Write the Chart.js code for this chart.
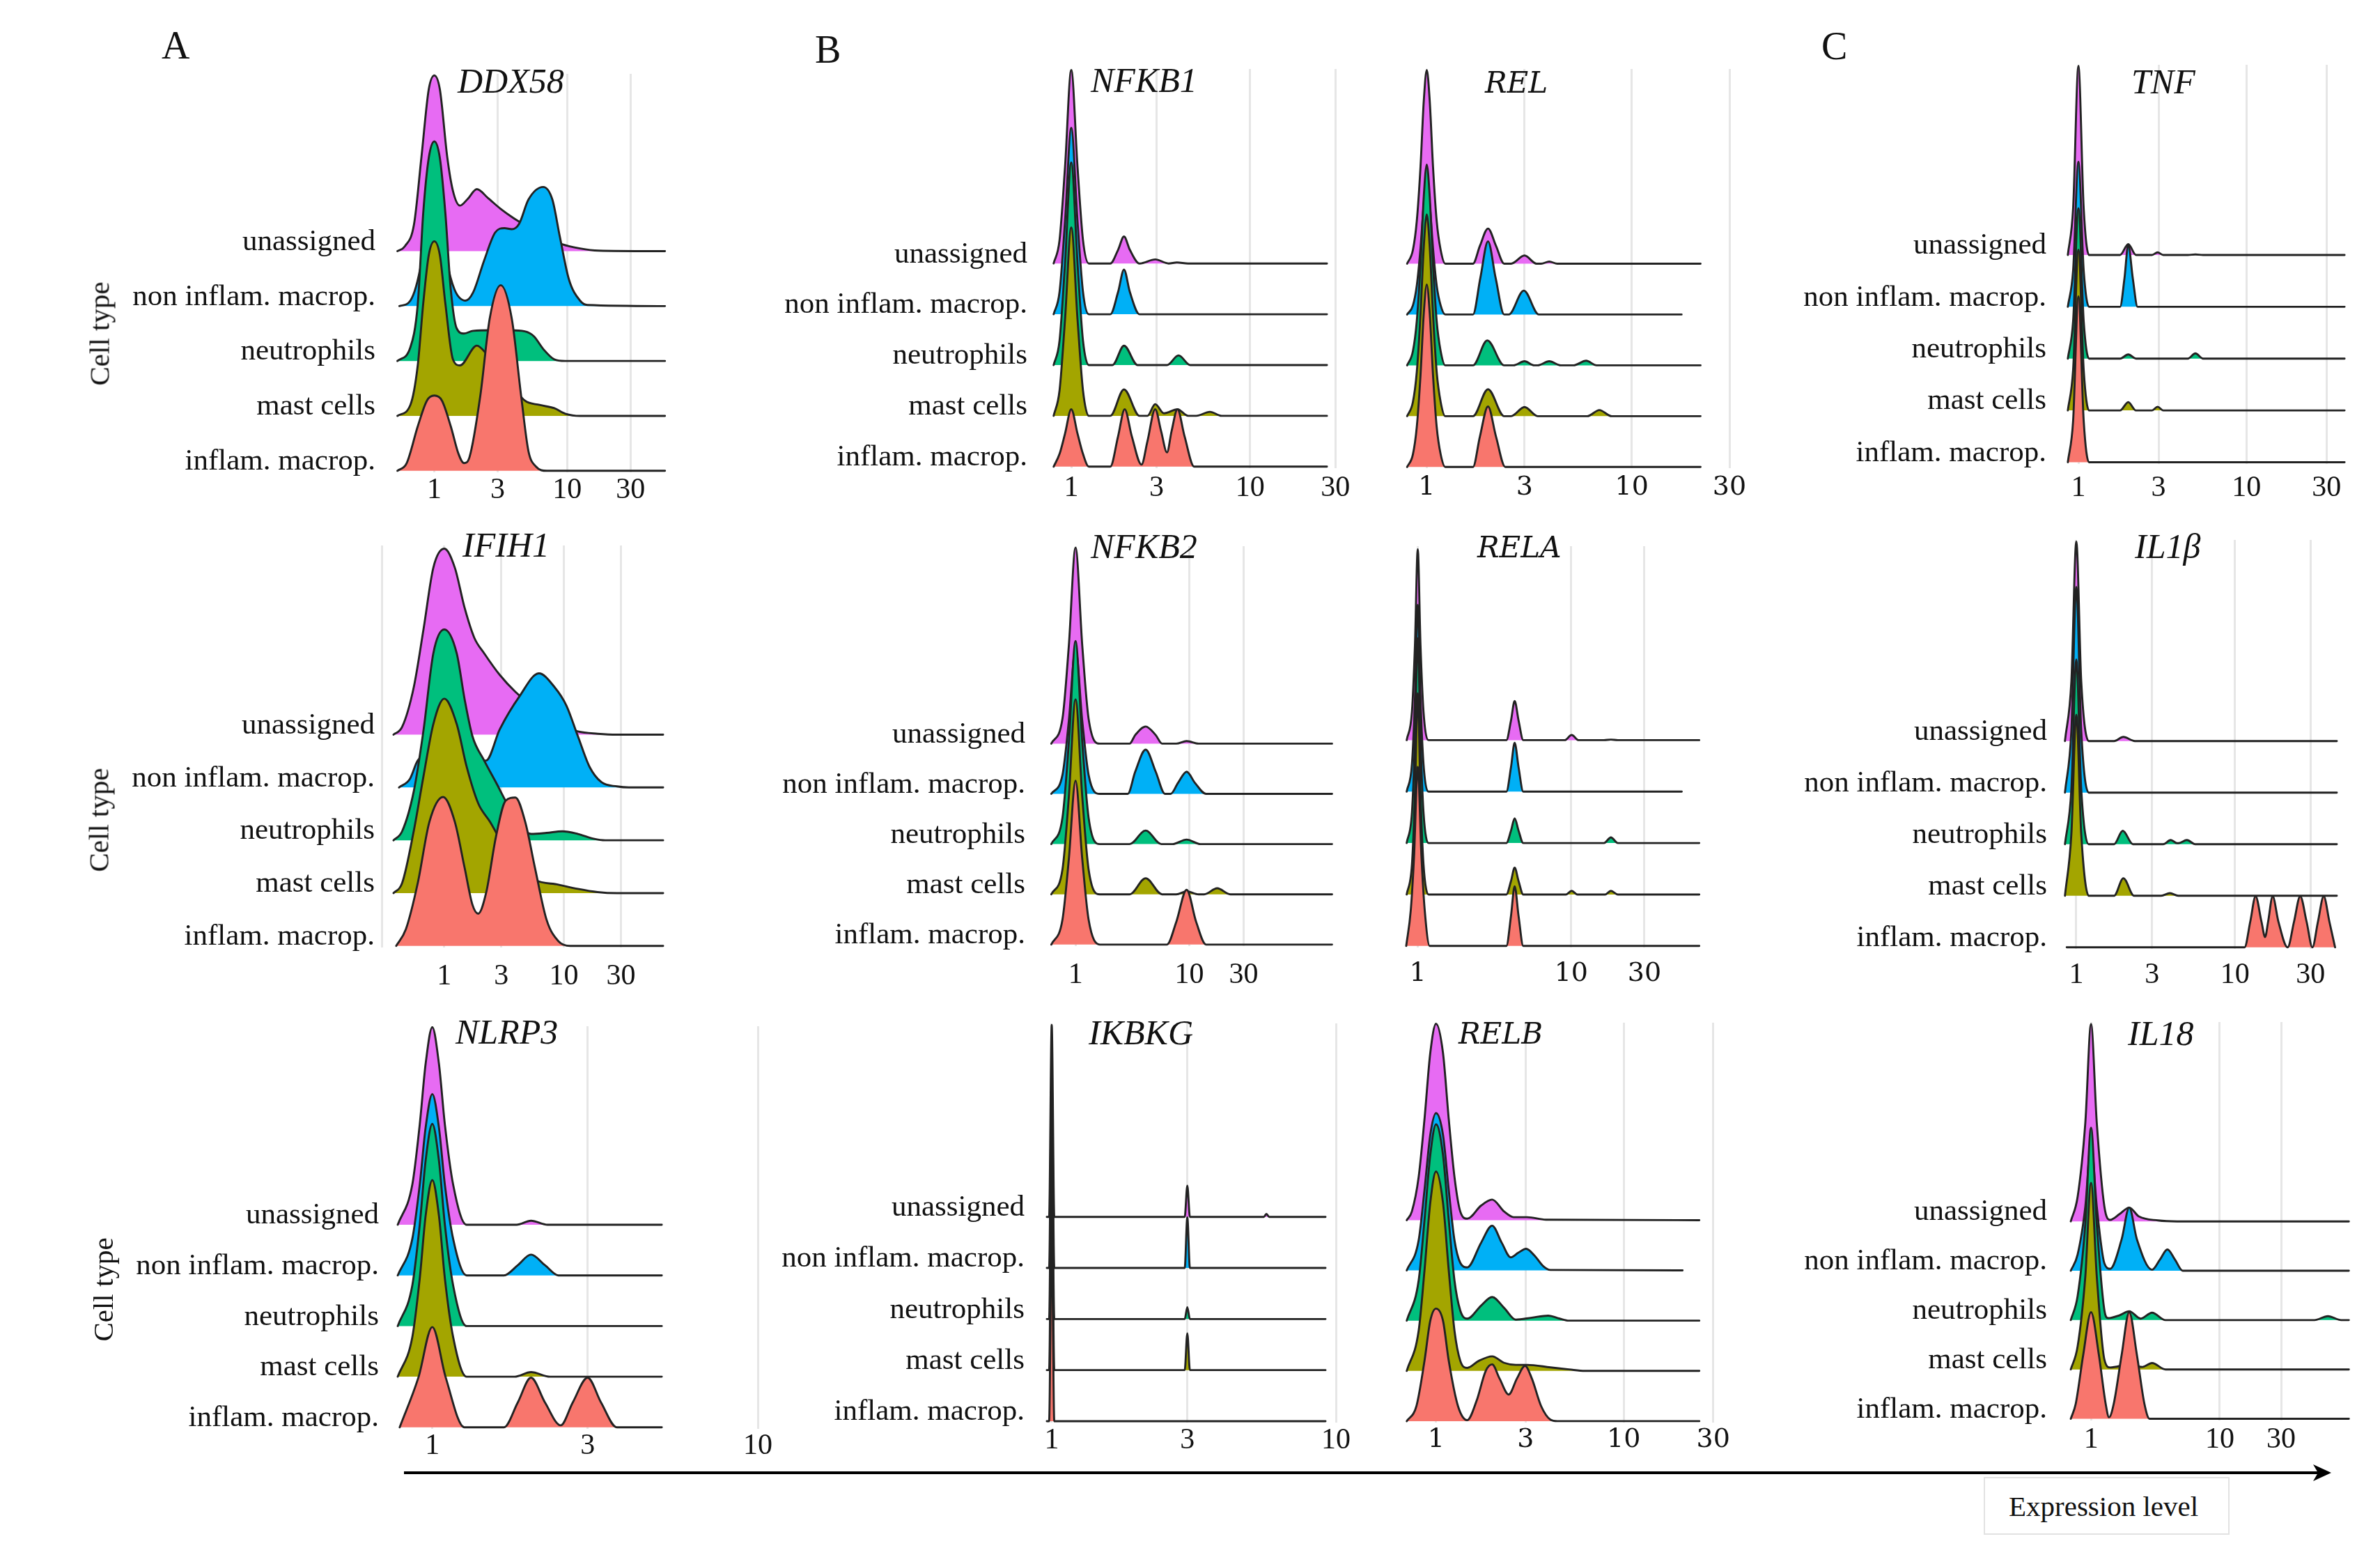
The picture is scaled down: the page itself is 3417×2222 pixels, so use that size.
<!DOCTYPE html>
<html><head><meta charset="utf-8">
<script src="https://cdn.jsdelivr.net/npm/chart.js@4.4.1/dist/chart.umd.min.js"></script>
<style>
html,body{margin:0;padding:0;background:#fff;}
#page{position:relative;width:3417px;height:2222px;overflow:hidden;background:#fff;}
#page canvas{position:absolute;}
.t{position:absolute;white-space:nowrap;line-height:1;color:#111;font-family:'Liberation Serif','Times New Roman',serif;}
.ti{font-style:italic;font-size:50px;}
.tj{font-family:'DejaVu Serif',serif;font-style:italic;font-size:42px;}
.let{font-size:56px;}
.ct{font-size:41px;transform:translate(-50%,-50%) rotate(-90deg);}
</style></head><body><div id="page"></div>
<script>
// ---------- categories (bottom ridge first) ----------
const CELL_TYPES = ['inflam. macrop.', 'mast cells', 'neutrophils', 'non inflam. macrop.', 'unassigned'];

// ---------- tick values per panel ----------
const TICKS_DDX58 = [1, 3, 10, 30];
const TICKS_NFKB1 = [1, 3, 10, 30];
const TICKS_REL = [1, 3, 10, 30];
const TICKS_TNF = [1, 3, 10, 30];
const TICKS_IFIH1 = [0.3, 1, 3, 10, 30];
const TICKS_NFKB2 = [1, 10, 30];
const TICKS_RELA = [1, 10, 30];
const TICKS_IL1B = [1, 3, 10, 30];
const TICKS_NLRP3 = [1, 3, 10];
const TICKS_IKBKG = [1, 3, 10];
const TICKS_RELB = [1, 3, 10, 30];
const TICKS_IL18 = [1, 10, 30];
const UNLABELLED_TICKS = [0.3];

// ---------- density ridges: [expression level, density height] ----------
// DDX58
const DDX58_inflam = [[0.527,0],[0.619,0.14],[0.75,0.81],[0.88,1.28],[1,1.37],[1.14,1.28],[1.33,0.81],[1.52,0.31],[1.67,0.14],[1.84,0.25],[2.22,1.37],[2.61,2.77],[3.16,3.38],[3.83,2.77],[4.5,1.37],[5.11,0.36],[5.81,0.08],[7.03,0],[54.5,0]];
const DDX58_mast = [[0.527,0],[0.66,0.2],[0.75,0.92],[0.825,2.05],[0.908,2.93],[1,3.18],[1.1,2.93],[1.21,2.05],[1.38,1.03],[1.56,0.92],[2.09,1.28],[2.53,1.1],[3.26,0.8],[4.8,0.28],[6.19,0.2],[8.0,0.14],[9.68,0.04],[12.5,0],[54.5,0]];
const DDX58_neutro = [[0.527,0],[0.66,0.25],[0.75,1.03],[0.825,2.7],[0.908,3.7],[1,4.0],[1.1,3.7],[1.21,2.7],[1.33,1.3],[1.47,0.6],[1.67,0.5],[1.96,0.55],[2.7,0.56],[3.71,0.56],[4.8,0.54],[5.62,0.45],[6.6,0.22],[8.0,0.03],[9.68,0],[54.5,0]];
const DDX58_nonInflam = [[0.545,0],[0.66,0.1],[0.8,0.8],[0.908,1.8],[1,2.1],[1.1,1.8],[1.25,0.8],[1.42,0.3],[1.72,0.1],[1.96,0.25],[2.37,0.83],[2.87,1.34],[3.37,1.42],[3.83,1.4],[4.35,1.5],[5.11,1.94],[6.6,2.17],[7.74,1.94],[8.8,1.27],[10.3,0.49],[12.5,0.1],[14.2,0.02],[54.5,0]];
const DDX58_unassigned = [[0.527,0],[0.6,0.09],[0.703,0.49],[0.8,1.72],[0.908,2.95],[1,3.2],[1.1,2.95],[1.25,1.72],[1.38,1.1],[1.56,0.83],[1.78,0.95],[2.09,1.13],[2.53,0.97],[3.16,0.77],[3.96,0.6],[5.45,0.4],[7.03,0.25],[9.09,0.13],[12.5,0.05],[17.2,0.01],[54.5,0]];
// NFKB1
const NFKB1_inflam = [[0.797,0],[0.86,0.25],[0.923,0.65],[1,1.13],[1.084,0.65],[1.163,0.25],[1.254,0],[1.653,0],[1.828,0.6],[1.99,1.13],[2.18,0.6],[2.47,0.04],[2.667,0.5],[2.946,1.13],[3.18,0.7],[3.43,0.28],[3.64,0.7],[3.926,1.13],[4.3,0.6],[4.87,0],[26.9,0]];
const NFKB1_mast = [[0.797,0],[0.86,0.5],[0.923,1.9],[1,3.71],[1.084,1.9],[1.163,0.5],[1.254,0],[1.653,0],[1.972,0.52],[2.41,0],[2.667,0],[2.946,0.23],[3.3,0.05],[3.926,0.13],[4.5,0],[5.0,0],[5.96,0.08],[6.93,0],[26.9,0]];
const NFKB1_neutro = [[0.797,0],[0.86,0.48],[0.923,2.0],[1,3.99],[1.084,2.0],[1.163,0.48],[1.254,0],[1.7,0],[1.972,0.38],[2.35,0],[3.43,0],[3.98,0.19],[4.63,0],[26.9,0]];
const NFKB1_nonInflam = [[0.797,0],[0.86,0.44],[0.923,1.83],[1,3.67],[1.084,1.83],[1.163,0.44],[1.254,0],[1.653,0],[1.828,0.44],[1.972,0.88],[2.126,0.44],[2.41,0],[26.9,0]];
const NFKB1_unassigned = [[0.797,0],[0.86,0.46],[0.923,1.9],[1,3.81],[1.084,1.9],[1.163,0.46],[1.254,0],[1.653,0],[1.828,0.27],[1.972,0.53],[2.126,0.27],[2.41,0],[2.95,0.08],[3.5,0],[3.9,0.02],[4.5,0],[26.9,0]];
// REL
const REL_inflam = [[0.802,0],[0.856,0.25],[0.894,0.79],[0.932,1.8],[0.967,3.02],[1,3.59],[1.034,3.02],[1.073,1.8],[1.118,0.79],[1.169,0.25],[1.231,0],[1.681,0],[1.817,0.6],[1.99,1.19],[2.177,0.6],[2.417,0],[21.68,0]];
const REL_mast = [[0.802,0],[0.856,0.28],[0.894,0.87],[0.932,1.99],[0.967,3.33],[1,3.97],[1.034,3.33],[1.073,1.99],[1.118,0.87],[1.169,0.28],[1.231,0],[1.681,0],[1.99,0.53],[2.387,0],[2.579,0],[3.0,0.18],[3.477,0],[6.075,0],[6.955,0.12],[7.979,0],[21.68,0]];
const REL_neutro = [[0.802,0],[0.856,0.28],[0.894,0.87],[0.932,1.98],[0.967,3.32],[1,3.95],[1.034,3.32],[1.073,1.98],[1.118,0.87],[1.169,0.28],[1.231,0],[1.681,0],[1.974,0.49],[2.387,0],[2.648,0],[3.0,0.08],[3.344,0],[3.477,0],[3.959,0.08],[4.508,0],[5.199,0],[5.998,0.09],[6.74,0],[21.68,0]];
const REL_nonInflam = [[0.802,0],[0.856,0.18],[0.894,0.57],[0.932,1.3],[0.967,2.18],[1,2.6],[1.034,2.18],[1.073,1.3],[1.118,0.57],[1.169,0.18],[1.231,0],[1.681,0],[1.826,0.72],[1.99,1.44],[2.168,0.72],[2.387,0],[2.513,0],[2.976,0.47],[3.523,0],[17.52,0]];
const REL_unassigned = [[0.802,0],[0.856,0.27],[0.894,0.84],[0.932,1.9],[0.967,3.2],[1,3.81],[1.034,3.2],[1.073,1.9],[1.118,0.84],[1.169,0.27],[1.231,0],[1.681,0],[1.817,0.35],[1.99,0.69],[2.177,0.35],[2.387,0],[2.579,0],[3.0,0.16],[3.432,0],[3.614,0],[3.959,0.04],[4.335,0],[21.68,0]];
// TNF
const TNF_inflam = [[0.865,0],[0.93,0.8],[1,3.2],[1.075,0.8],[1.156,0],[38.4,0]];
const TNF_mast = [[0.865,0],[0.93,0.78],[1,3.1],[1.075,0.78],[1.156,0],[1.77,0],[1.98,0.16],[2.2,0],[2.74,0],[2.96,0.07],[3.2,0],[38.4,0]];
const TNF_neutro = [[0.865,0],[0.93,0.72],[1,2.9],[1.075,0.72],[1.156,0],[1.77,0],[1.98,0.08],[2.2,0],[4.48,0],[4.97,0.1],[5.52,0],[38.4,0]];
const TNF_nonInflam = [[0.865,0],[0.93,0.7],[1,2.8],[1.075,0.7],[1.156,0],[1.77,0],[1.88,0.55],[1.98,1.2],[2.107,0.55],[2.25,0],[38.4,0]];
const TNF_unassigned = [[0.865,0],[0.93,0.9],[1,3.65],[1.075,0.9],[1.156,0],[1.77,0],[1.98,0.21],[2.2,0],[2.74,0],[2.96,0.05],[3.2,0],[4.48,0],[4.97,0.01],[5.52,0],[38.4,0]];
// IFIH1
const IFIH1_inflam = [[0.396,0],[0.478,0.32],[0.6,1.19],[0.751,2.35],[0.978,2.82],[1.225,2.35],[1.479,1.48],[1.72,0.78],[1.92,0.61],[2.24,1.01],[2.7,2.06],[3.26,2.75],[3.93,2.81],[4.75,2.35],[5.73,1.48],[7.18,0.49],[9.0,0.09],[11.3,0],[67.6,0]];
const IFIH1_mast = [[0.376,0],[0.444,0.19],[0.556,1.18],[0.671,2.22],[0.81,3.2],[1.0,3.68],[1.27,3.2],[1.535,2.4],[1.92,1.7],[2.41,1.35],[3.14,0.9],[4.24,0.5],[5.73,0.25],[9.0,0.16],[13.1,0.08],[19.1,0.02],[27.8,0],[67.6,0]];
const IFIH1_neutro = [[0.376,0],[0.444,0.17],[0.556,0.93],[0.671,2.09],[0.81,3.54],[1.0,3.99],[1.27,3.54],[1.479,2.67],[1.72,1.97],[2.155,1.51],[2.7,1.1],[3.65,0.55],[5.31,0.12],[7.18,0.14],[9.7,0.17],[13.1,0.12],[17.7,0.03],[22.2,0],[67.6,0]];
const IFIH1_nonInflam = [[0.418,0],[0.515,0.16],[0.6,0.51],[0.81,0.65],[1.094,0.6],[1.595,0.5],[2.24,0.51],[2.91,1.1],[4.24,1.72],[6.18,2.16],[8.35,1.9],[10.5,1.55],[13.1,0.97],[16.4,0.39],[20.6,0.1],[27.8,0.02],[34.9,0],[67.6,0]];
const IFIH1_unassigned = [[0.376,0],[0.444,0.145],[0.556,0.9],[0.671,2.0],[0.81,3.16],[1.0,3.52],[1.225,3.16],[1.479,2.4],[1.785,1.83],[2.155,1.54],[2.91,1.13],[3.93,0.81],[5.73,0.5],[9.0,0.2],[13.1,0.06],[19.1,0.017],[27.8,0],[67.6,0]];
// NFKB2
const NFKB2_inflam = [[0.612,0],[0.768,0.5],[0.873,1.7],[1,3.26],[1.146,1.7],[1.302,0.5],[1.633,0],[6.36,0],[7.68,0.45],[9.48,1.09],[11.5,0.45],[14.05,0],[180,0]];
const NFKB2_mast = [[0.612,0],[0.768,0.5],[0.873,1.94],[1,3.88],[1.146,1.94],[1.302,0.5],[1.633,0],[2.988,0],[4.134,0.32],[5.765,0],[7.68,0],[9.48,0.06],[12.08,0],[13.52,0],[17.6,0.12],[22.95,0],[180,0]];
const NFKB2_neutro = [[0.612,0],[0.768,0.53],[0.873,2.02],[1,4.04],[1.146,2.02],[1.302,0.53],[1.633,0],[2.988,0],[4.134,0.27],[5.676,0],[7.12,0],[9.48,0.09],[12.54,0],[180,0]];
const NFKB2_nonInflam = [[0.612,0],[0.768,0.38],[0.873,1.45],[1,2.9],[1.146,1.45],[1.302,0.38],[1.633,0],[2.877,0],[3.346,0.44],[4.134,0.88],[5.07,0.44],[6.12,0],[6.86,0],[7.97,0.22],[9.48,0.44],[11.2,0.22],[14.05,0],[180,0]];
const NFKB2_unassigned = [[0.612,0],[0.768,0.5],[0.873,1.95],[1,3.9],[1.146,1.95],[1.302,0.5],[1.633,0],[2.988,0],[3.346,0.17],[4.134,0.34],[5.07,0.17],[5.765,0],[7.68,0],[9.48,0.05],[12.08,0],[180,0]];
// RELA
const RELA_inflam = [[0.841,0],[0.901,0.7],[0.946,1.74],[1,3.48],[1.057,1.74],[1.11,0.7],[1.197,0],[3.78,0],[4.05,0.58],[4.28,1.16],[4.54,0.58],[4.87,0],[68.3,0]];
const RELA_mast = [[0.847,0],[0.917,0.59],[0.959,1.95],[1,3.91],[1.042,1.95],[1.09,0.59],[1.177,0],[3.78,0],[4.05,0.26],[4.28,0.52],[4.54,0.26],[4.87,0],[9.23,0],[10.07,0.07],[10.98,0],[16.63,0],[18.14,0.07],[20.13,0],[68.3,0]];
const RELA_neutro = [[0.847,0],[0.917,0.6],[0.959,2.0],[1,3.98],[1.042,2.0],[1.09,0.6],[1.177,0],[3.78,0],[4.05,0.24],[4.28,0.48],[4.54,0.24],[4.87,0],[16.35,0],[18.14,0.11],[20.13,0],[68.3,0]];
const RELA_nonInflam = [[0.847,0],[0.917,0.54],[0.959,1.8],[1,3.63],[1.042,1.8],[1.09,0.54],[1.177,0],[3.78,0],[4.05,0.47],[4.28,0.95],[4.54,0.47],[4.87,0],[52.5,0]];
const RELA_unassigned = [[0.847,0],[0.917,0.56],[0.959,1.85],[1,3.71],[1.042,1.85],[1.09,0.56],[1.177,0],[3.78,0],[4.05,0.38],[4.28,0.76],[4.54,0.38],[4.87,0],[9.07,0],[10.07,0.1],[11.17,0],[16.35,0],[18.14,0.01],[20.13,0],[68.3,0]];
// IL1B
const IL1B_inflam = [[0.87,0],[11.5,0],[12.5,0.5],[13.5,0.99],[14.7,0.5],[15.5,0.2],[16.2,0.5],[17.3,0.99],[18.8,0.5],[21.5,0],[23.6,0.5],[25.8,0.99],[28.3,0.5],[30.8,0],[33.4,0.5],[36.3,0.99],[39.4,0.5],[42.8,0]];
const IL1B_mast = [[0.848,0],[0.931,1.2],[1,3.51],[1.074,1.2],[1.198,0],[1.73,0],[1.98,0.34],[2.313,0],[3.43,0],[3.89,0.05],[4.39,0],[43.9,0]];
const IL1B_neutro = [[0.848,0],[0.931,1.07],[1,3.58],[1.074,1.07],[1.198,0],[1.73,0],[1.963,0.26],[2.276,0],[3.53,0],[3.94,0.08],[4.32,0.02],[4.42,0.02],[4.98,0.08],[5.62,0],[43.9,0]];
const IL1B_nonInflam = [[0.848,0],[0.931,1.2],[1,3.99],[1.074,1.2],[1.198,0],[43.9,0]];
const IL1B_unassigned = [[0.848,0],[0.931,1.16],[1,3.87],[1.074,1.16],[1.198,0],[1.73,0],[1.98,0.08],[2.34,0],[43.9,0]];
// NLRP3
const NLRP3_inflam = [[0.794,0],[0.907,0.99],[1,1.98],[1.099,0.99],[1.255,0],[1.433,0],[1.66,0],[1.83,0.49],[2.01,0.98],[2.22,0.49],[2.48,0.04],[2.7,0.49],[3.0,0.98],[3.3,0.49],[3.69,0],[5.07,0]];
const NLRP3_mast = [[0.783,0],[0.868,0.78],[0.915,1.94],[0.954,3.18],[1,3.88],[1.048,3.18],[1.093,1.94],[1.159,0.78],[1.274,0],[1.79,0],[2.01,0.09],[2.3,0],[5.07,0]];
const NLRP3_neutro = [[0.783,0],[0.868,0.8],[0.915,2.0],[0.954,3.27],[1,3.99],[1.048,3.27],[1.093,2.0],[1.159,0.8],[1.274,0],[5.07,0]];
const NLRP3_nonInflam = [[0.783,0],[0.868,0.72],[0.915,1.79],[0.954,2.92],[1,3.58],[1.048,2.92],[1.093,1.79],[1.159,0.72],[1.274,0],[1.66,0],[1.83,0.2],[2.01,0.41],[2.22,0.2],[2.44,0],[5.07,0]];
const NLRP3_unassigned = [[0.783,0],[0.868,0.79],[0.915,1.98],[0.954,3.18],[1,3.9],[1.048,3.18],[1.093,1.98],[1.159,0.79],[1.274,0],[1.815,0],[2.01,0.08],[2.26,0],[5.07,0]];
// IKBKG
const IKBKG_inflam = [[0.961,0],[0.979,0],[1,3.7],[1.021,0],[9.19,0]];
const IKBKG_mast = [[0.961,0],[0.979,0],[1,3.7],[1.021,0],[2.937,0],[3.0,0.72],[3.064,0],[9.19,0]];
const IKBKG_neutro = [[0.961,0],[0.979,0],[1,3.7],[1.021,0],[2.937,0],[3.0,0.23],[3.064,0],[9.19,0]];
const IKBKG_nonInflam = [[0.961,0],[0.979,0],[1,3.7],[1.021,0],[2.937,0],[3.0,0.99],[3.064,0],[9.19,0]];
const IKBKG_unassigned = [[0.961,0],[0.979,0],[1,3.76],[1.021,0],[2.937,0],[3.0,0.61],[3.064,0],[5.577,0],[5.695,0.06],[5.82,0],[9.19,0]];
// RELB
const RELB_inflam = [[0.698,0],[0.786,0.3],[0.868,1.2],[0.932,2.0],[1,2.24],[1.089,2.0],[1.169,1.2],[1.309,0.3],[1.466,0.02],[1.643,0.4],[1.84,1.0],[1.99,1.13],[2.18,0.85],[2.44,0.53],[2.7,0.85],[2.98,1.1],[3.24,0.85],[3.63,0.3],[4.07,0.03],[4.43,0],[25.3,0]];
const RELB_mast = [[0.698,0],[0.808,0.8],[0.868,2.0],[0.932,3.35],[1,3.97],[1.089,3.35],[1.169,2.0],[1.254,0.8],[1.347,0.2],[1.466,0.06],[1.69,0.2],[1.99,0.29],[2.31,0.16],[2.66,0.12],[3.06,0.12],[4.07,0.07],[5.11,0.03],[6.22,0],[25.3,0]];
const RELB_neutro = [[0.698,0],[0.808,0.8],[0.868,2.0],[0.932,3.3],[1,3.91],[1.089,3.3],[1.169,2.0],[1.254,0.8],[1.347,0.2],[1.466,0.04],[1.738,0.3],[1.99,0.47],[2.31,0.25],[2.66,0.02],[3.24,0.06],[3.96,0.1],[4.56,0.04],[5.11,0],[25.3,0]];
const RELB_nonInflam = [[0.698,0],[0.808,0.6],[0.868,1.6],[0.932,2.7],[1,3.13],[1.089,2.7],[1.169,1.6],[1.254,0.6],[1.347,0.15],[1.466,0.06],[1.738,0.55],[1.99,0.89],[2.24,0.55],[2.5,0.26],[2.74,0.35],[3.02,0.43],[3.34,0.3],[3.74,0.08],[4.07,0.01],[20.6,0]];
const RELB_unassigned = [[0.698,0],[0.743,0.17],[0.808,0.86],[0.868,2.01],[0.932,3.33],[1,3.91],[1.089,3.33],[1.169,2.01],[1.254,0.86],[1.347,0.17],[1.466,0.03],[1.738,0.29],[1.99,0.41],[2.31,0.17],[2.59,0.06],[3.06,0.06],[3.85,0.01],[25.3,0]];
// IL18
const IL18_inflam = [[0.696,0],[0.76,0.3],[0.87,1.3],[1,2.16],[1.15,1.3],[1.3,0.3],[1.38,0.03],[1.5,0.3],[1.73,1.3],[1.98,2.16],[2.27,1.3],[2.6,0.3],[2.85,0],[100.7,0]];
const IL18_mast = [[0.696,0],[0.787,0.47],[0.903,1.89],[1,3.78],[1.108,1.89],[1.27,0.2],[1.407,0.04],[1.98,0.1],[2.5,0.05],[2.98,0.13],[3.79,0],[100.7,0]];
const IL18_neutro = [[0.696,0],[0.787,0.49],[0.903,1.95],[1,3.9],[1.108,1.95],[1.27,0.2],[1.36,0.04],[1.67,0.1],[1.98,0.18],[2.43,0.03],[2.98,0.15],[3.79,0],[54.4,0],[69.2,0.08],[87.8,0],[100.7,0]];
const IL18_nonInflam = [[0.696,0],[0.787,0.33],[0.903,1.3],[1,2.6],[1.108,1.3],[1.27,0.15],[1.407,0.04],[1.73,0.64],[1.98,1.28],[2.27,0.64],[2.98,0.02],[3.42,0.22],[3.92,0.43],[4.5,0.22],[5.15,0],[100.7,0]];
const IL18_unassigned = [[0.696,0],[0.787,0.5],[0.903,2.0],[1,4.0],[1.108,2.0],[1.27,0.3],[1.407,0.03],[1.67,0.15],[1.98,0.28],[2.35,0.1],[3.31,0.02],[4.65,0],[100.7,0]];

// ---------- styles & layout ----------
const COLORS = ['#F8766D', '#A3A500', '#00BF7D', '#00B0F6', '#E76BF3'];
const SERIF = "'Liberation Serif', 'Times New Roman', serif";
const DEJAVU = "'DejaVu Serif', serif";

const PANELS = [
  {series:[DDX58_inflam,DDX58_mast,DDX58_neutro,DDX58_nonInflam,DDX58_unassigned], ticks:TICKS_DDX58, l:560, r:968, t:106, b:678, xr:[0.464,64], yr:[-0.028,7.23], labels:true, gap:21, pad:1, font:SERIF, fs:42},
  {series:[NFKB1_inflam,NFKB1_mast,NFKB1_neutro,NFKB1_nonInflam,NFKB1_unassigned], ticks:TICKS_NFKB1, l:1495.6, r:1922, t:99.3, b:672, xr:[0.686,31.3], yr:[-0.03,7.83], labels:true, gap:21, pad:4, font:SERIF, fs:42},
  {series:[REL_inflam,REL_mast,REL_neutro,REL_nonInflam,REL_unassigned], ticks:TICKS_REL, l:1991.5, r:2482, t:99.3, b:672, xr:[0.643,30], yr:[-0.023,7.83], labels:false, gap:0, pad:5, font:DEJAVU, fs:38},
  {series:[TNF_inflam,TNF_mast,TNF_neutro,TNF_nonInflam,TNF_unassigned], ticks:TICKS_TNF, l:2964.7, r:3376.7, t:93.3, b:666, xr:[0.834,42.6], yr:[-0.034,7.67], labels:true, gap:27, pad:10, font:SERIF, fs:42},
  {series:[IFIH1_inflam,IFIH1_mast,IFIH1_neutro,IFIH1_nonInflam,IFIH1_unassigned], ticks:TICKS_IFIH1, l:537.7, r:969.9, t:783.1, b:1360.4, xr:[0.262,86], yr:[-0.029,7.58], labels:true, gap:0, pad:17, font:SERIF, fs:42},
  {series:[NFKB2_inflam,NFKB2_mast,NFKB2_neutro,NFKB2_nonInflam,NFKB2_unassigned], ticks:TICKS_NFKB2, l:1496.4, r:1927.7, t:784, b:1358.2, xr:[0.507,221], yr:[-0.03,7.93], labels:true, gap:24, pad:17, font:SERIF, fs:42},
  {series:[RELA_inflam,RELA_mast,RELA_neutro,RELA_nonInflam,RELA_unassigned], ticks:TICKS_RELA, l:1999, r:2452.4, t:784, b:1360.4, xr:[0.683,77.7], yr:[-0.03,7.77], labels:false, gap:0, pad:15, font:DEJAVU, fs:38},
  {series:[IL1B_inflam,IL1B_mast,IL1B_neutro,IL1B_nonInflam,IL1B_unassigned], ticks:TICKS_IL1B, l:2960.9, r:3374, t:775.2, b:1361.7, xr:[0.817,53.2], yr:[-0.03,7.9], labels:true, gap:22, pad:13, font:SERIF, fs:42},
  {series:[NLRP3_inflam,NLRP3_mast,NLRP3_neutro,NLRP3_nonInflam,NLRP3_unassigned], ticks:TICKS_NLRP3, l:561.6, r:1088, t:1472.5, b:2050.2, xr:[0.749,10], yr:[-0.03,7.92], labels:true, gap:18, pad:0, font:SERIF, fs:42},
  {series:[IKBKG_inflam,IKBKG_mast,IKBKG_neutro,IKBKG_nonInflam,IKBKG_unassigned], ticks:TICKS_IKBKG, l:1501.8, r:1917.5, t:1469, b:2042.3, xr:[0.956,10], yr:[-0.028,7.79], labels:true, gap:31, pad:1, font:SERIF, fs:42},
  {series:[RELB_inflam,RELB_mast,RELB_neutro,RELB_nonInflam,RELB_unassigned], ticks:TICKS_RELB, l:1991.5, r:2464, t:1468.2, b:2041.9, xr:[0.551,31.4], yr:[-0.029,7.93], labels:false, gap:0, pad:2, font:DEJAVU, fs:38},
  {series:[IL18_inflam,IL18_mast,IL18_neutro,IL18_nonInflam,IL18_unassigned], ticks:TICKS_IL18, l:2972.3, r:3389.2, t:1467.4, b:2039.4, xr:[0.687,124], yr:[-0.035,8.04], labels:true, gap:33, pad:3, font:SERIF, fs:42}
];

const page = document.getElementById('page');
const PAD_TOP = 60, PAD_RIGHT = 45, X_H = 70;

function makePanel(p) {
  const yW = p.labels ? 420 : 0;
  const plotW = p.r - p.l, plotH = p.b - p.t;
  const W = Math.round(yW + plotW + PAD_RIGHT), H = Math.round(PAD_TOP + plotH + X_H);
  const cv = document.createElement('canvas');
  cv.width = W; cv.height = H;
  cv.style.left = Math.round(p.l - yW) + 'px';
  cv.style.top = Math.round(p.t - PAD_TOP) + 'px';
  cv.style.width = W + 'px'; cv.style.height = H + 'px';
  page.appendChild(cv);
  const datasets = p.series.map((s, k) => ({
    data: s.map(([x, h]) => ({x: x, y: k + h})),
    fill: {value: k},
    backgroundColor: COLORS[k],
    borderColor: '#222222',
    borderWidth: 2.9,
    borderJoinStyle: 'round',
    borderCapStyle: 'round',
    pointRadius: 0,
    cubicInterpolationMode: 'monotone',
    clip: false
  }));
  new Chart(cv, {
    type: 'line',
    data: {datasets},
    options: {
      responsive: false, animation: false, events: [], devicePixelRatio: 1,
      layout: {padding: {top: PAD_TOP, right: PAD_RIGHT, left: 0, bottom: 0}},
      plugins: {legend: {display: false}, tooltip: {enabled: false}, title: {display: false}},
      scales: {
        x: {
          type: 'logarithmic', min: p.xr[0], max: p.xr[1], bounds: 'data',
          afterBuildTicks: s => { s.ticks = p.ticks.filter(v => v >= s.min && v <= s.max).map(v => ({value: v})); },
          afterFit: s => { s.height = X_H; },
          grid: {color: '#e6e6e6', lineWidth: 3, drawTicks: false, tickLength: 0},
          border: {display: false},
          ticks: {font: {family: p.font, size: p.fs}, color: '#111', padding: p.pad, autoSkip: false,
                  maxRotation: 0, minRotation: 0,
                  callback: v => UNLABELLED_TICKS.includes(v) ? '' : String(v)}
        },
        y: {
          type: 'linear', min: p.yr[0], max: p.yr[1], bounds: 'data', display: p.labels,
          afterBuildTicks: s => { s.ticks = CELL_TYPES.map((c, i) => ({value: i})); },
          afterFit: s => { s.width = yW; },
          grid: {display: false, drawTicks: false, tickLength: 0},
          border: {display: false},
          ticks: {font: {family: SERIF, size: 43}, color: '#111', padding: p.gap, labelOffset: -13,
                  autoSkip: false, callback: v => CELL_TYPES[v]}
        }
      }
    }
  });
}
PANELS.forEach(makePanel);

// ---------- text overlays ----------
function addText(txt, cls, left, top) {
  const d = document.createElement('div');
  d.className = 't ' + cls; d.textContent = txt;
  d.style.left = left + 'px'; d.style.top = top + 'px';
  page.appendChild(d); return d;
}
addText('A', 'let', 232, 37);
addText('B', 'let', 1170, 43);
addText('C', 'let', 2615, 38);
const TITLES = [
  ['DDX58','ti',657,91],['NFKB1','ti',1566,90],['REL','tj',2132,98],['TNF','ti',3060,92],
  ['IFIH1','ti',664,757],['NFKB2','ti',1566,759],['RELA','tj',2121,765],['IL1β','ti',3065,759],
  ['NLRP3','ti',654,1456],['IKBKG','ti',1563,1457],['RELB','tj',2094,1463],['IL18','ti',3055,1458]
];
TITLES.forEach(a => addText(a[0], a[1], a[2], a[3]));
[[143,479],[142,1177],[148,1851]].forEach(c => addText('Cell type', 'ct', c[0], c[1]));

// expression level box + arrow
const box = document.createElement('div');
box.style.cssText = 'position:absolute;left:2848px;top:2120px;width:353px;height:83px;border:2px solid #e2e2e2;box-sizing:border-box;';
page.appendChild(box);
const ex = addText('Expression level', '', 2884, 2142);
ex.style.fontSize = '41px';

const svgNS = 'http://www.w3.org/2000/svg';
const svg = document.createElementNS(svgNS, 'svg');
svg.setAttribute('width', '3417'); svg.setAttribute('height', '2222');
svg.style.cssText = 'position:absolute;left:0;top:0;pointer-events:none;';
const ln = document.createElementNS(svgNS, 'line');
ln.setAttribute('x1', 580); ln.setAttribute('y1', 2114); ln.setAttribute('x2', 3335); ln.setAttribute('y2', 2114);
ln.setAttribute('stroke', '#000'); ln.setAttribute('stroke-width', 4);
svg.appendChild(ln);
const ah = document.createElementNS(svgNS, 'polygon');
ah.setAttribute('points', '3347,2114 3321,2102 3328,2114 3321,2126');
ah.setAttribute('fill', '#000');
svg.appendChild(ah);
page.appendChild(svg);
</script></body></html>
